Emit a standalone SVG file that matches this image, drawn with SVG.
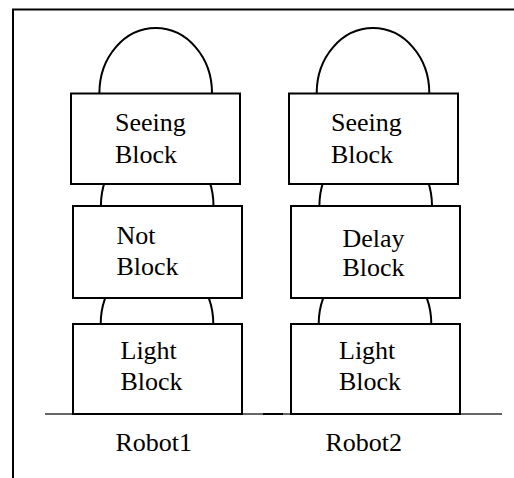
<svg xmlns="http://www.w3.org/2000/svg" width="514" height="478" viewBox="0 0 514 478">
<style>
.box{fill:#fff;stroke:#000;stroke-width:2}
.dome{fill:none;stroke:#000;stroke-width:2}
.frame{fill:none;stroke:#000;stroke-width:2}
text{font-family:"Liberation Serif","Times New Roman",serif;font-size:26px;fill:#000}
</style>
<rect width="514" height="478" fill="#fff"/>
<path class="frame" d="M13,478 V9.5 H514"/>
<g id="ground">
<line x1="45" y1="414" x2="502" y2="414" stroke="#333" stroke-width="1.5"/>
<line x1="263" y1="414" x2="283" y2="414" stroke="#000" stroke-width="2"/>
</g>
<g id="connectors"></g>
<g id="robot1-seeing">
<path class="dome" d="M99.4,93 A56.3 65 0 0 1 212,93"/>
</g>
<g id="robot1-not">
<path class="dome" d="M100.9,206 A56.3 65 0 0 1 213.5,206"/>
</g>
<g id="robot1-light">
<path class="dome" d="M100.7,324 A56.3 65 0 0 1 213.3,324"/>
</g>
<g id="robot2-seeing">
<path class="dome" d="M316.7,93 A56.3 65 0 0 1 429.3,93"/>
</g>
<g id="robot2-delay">
<path class="dome" d="M319.4,206 A56.3 65 0 0 1 432,206"/>
</g>
<g id="robot2-light">
<path class="dome" d="M318.7,324 A56.3 65 0 0 1 431.3,324"/>
</g>
<g id="robot1-seeing-box">
<rect class="box" x="71" y="93.5" width="169" height="90.5"/>
<text x="115" y="131">Seeing</text><text x="115" y="162.5">Block</text>
</g>
<g id="robot1-not-box">
<rect class="box" x="73" y="206" width="169" height="92"/>
<text x="116.5" y="244">Not</text><text x="116.5" y="275">Block</text>
</g>
<g id="robot1-light-box">
<rect class="box" x="73" y="324" width="169" height="90"/>
<text x="120.5" y="359">Light</text><text x="120.5" y="390">Block</text>
</g>
<g id="robot2-seeing-box">
<rect class="box" x="289" y="93.5" width="169" height="90.5"/>
<text x="331" y="131">Seeing</text><text x="331" y="162.5">Block</text>
</g>
<g id="robot2-delay-box">
<rect class="box" x="291" y="206" width="169" height="92"/>
<text x="342.5" y="247">Delay</text><text x="342.5" y="276">Block</text>
</g>
<g id="robot2-light-box">
<rect class="box" x="291" y="324" width="169" height="90"/>
<text x="339" y="359">Light</text><text x="339" y="390">Block</text>
</g>
<g id="labels">
<text x="115.5" y="451">Robot1</text>
<text x="325.5" y="451">Robot2</text>
</g>
</svg>
